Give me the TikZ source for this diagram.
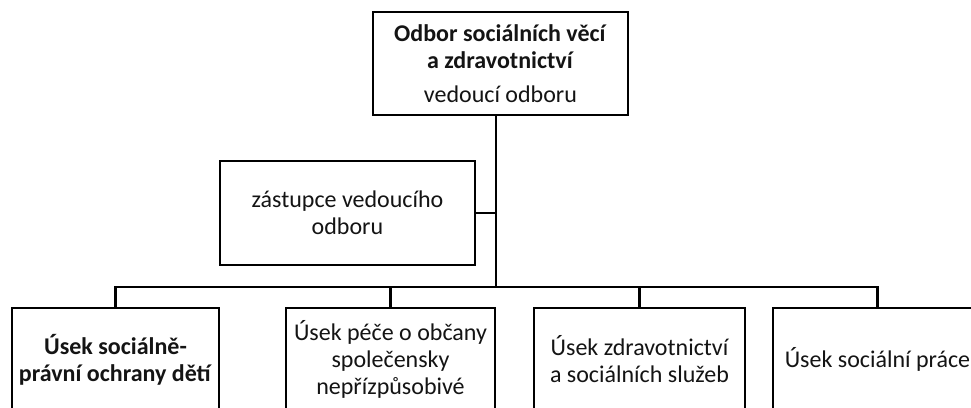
\documentclass[tikz,border=0pt]{standalone}
\usepackage{fontspec}
\setmainfont{Carlito}
\begin{document}
\begin{tikzpicture}[x=0.75pt,y=-0.75pt]

    % Colours of the chart
    \definecolor{linecol}{RGB}{0,0,0}
    \definecolor{txtcol}{RGB}{20,20,20}

    % Common box and line styles
    \tikzset{
        orgbox/.style={draw=linecol, line width=1.8pt, fill=white, text=txtcol,
            font=\fontsize{18}{20.2}\selectfont, align=center, inner sep=1pt},
        headbox/.style={orgbox, minimum width=191.25pt, minimum height=77.25pt},
        unitbox/.style={orgbox, minimum height=77.25pt},
        orgline/.style={draw=linecol, line width=1.8pt}
    }

    \useasboundingbox (0,0) rectangle (971,407);
    \clip (0,0) rectangle (971,407);

    % ================ head of department =================
    \node[headbox] (odbor) at (500.5,63.5)
        {\textbf{Odbor sociálních věcí}\\\textbf{a zdravotnictví}\\[5pt]vedoucí odboru};
    \coordinate (bus) at (496,287);

    % ====================== deputy =======================
    \node[headbox, minimum height=78pt] (zastupce) at (347.5,213)
        {zástupce vedoucího\\odboru};

    % =================== the four units ==================
    \node[unitbox, minimum width=155.25pt] (spod) at (115.5,359.5)
        {\textbf{Úsek sociálně-}\\\textbf{právní ochrany dětí}};
    \node[unitbox, minimum width=156.75pt] (pece) at (390.5,359.5)
        {Úsek péče o občany\\společensky\\nepřízpůsobivé};
    \node[unitbox, minimum width=158.25pt] (zdrav) at (639.5,359.5)
        {Úsek zdravotnictví\\a sociálních služeb};
    \node[unitbox, minimum width=156.75pt] (prace) at (877.5,359.5)
        {Úsek sociální práce};

    % ===================== connectors ====================
    \draw[orgline] (odbor.south -| bus) -- (bus);
    \draw[orgline] (zastupce.east) -- (zastupce.east -| bus);
    \draw[orgline] (spod.north) |- (prace.north |- bus) -- (prace.north);
    \draw[orgline] (pece.north) -- (pece.north |- bus);
    \draw[orgline] (zdrav.north) -- (zdrav.north |- bus);

\end{tikzpicture}
\end{document}
